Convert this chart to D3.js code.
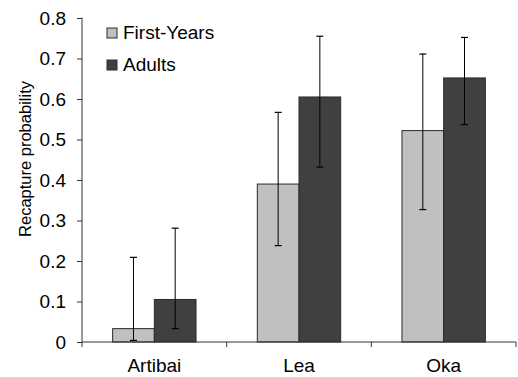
<!DOCTYPE html>
<html>
<head>
<meta charset="utf-8">
<script src="https://cdn.jsdelivr.net/npm/d3@7"></script>
<style>
  body { margin: 0; background: #fff; }
  text { font-family: "Liberation Sans", Arial, sans-serif; fill: #000; }
</style>
</head>
<body>
<svg id="chart" width="518" height="377"></svg>
<script>
var sites = ["Artibai", "Lea", "Oka"];
var groups = ["First-Years", "Adults"];
var firstYears = [0.033, 0.39, 0.522];
var firstYearsLow = [0.004, 0.238, 0.327];
var firstYearsHigh = [0.209, 0.567, 0.711];
var adults = [0.105, 0.605, 0.652];
var adultsLow = [0.033, 0.432, 0.537];
var adultsHigh = [0.281, 0.755, 0.752];
var yTicks = [0, 0.1, 0.2, 0.3, 0.4, 0.5, 0.6, 0.7, 0.8];
var colors = ["#c0c0c0", "#404040"];

function drawChart() {
    var svg = d3.select("#chart");
    var mLeft = 82, mRight = 516, mTop = 18, mBottom = 342;

    var x = d3.scaleBand().domain(sites).range([mLeft, mRight]).paddingInner(0).paddingOuter(0);
    var xg = d3.scaleBand().domain(groups).range([0, x.bandwidth()]).paddingInner(0).paddingOuter(0.735);
    var y = d3.scaleLinear().domain([0, 0.8]).range([mBottom, mTop]);

    var rows = [];
    sites.forEach(function (s, i) {
        rows.push({ site: s, group: groups[0], v: firstYears[i], lo: firstYearsLow[i], hi: firstYearsHigh[i], c: colors[0] });
        rows.push({ site: s, group: groups[1], v: adults[i], lo: adultsLow[i], hi: adultsHigh[i], c: colors[1] });
    });

    // bars
    svg.selectAll(".bar")
        .data(rows)
        .enter()
        .append("rect")
        .attr("x", function (d) { return x(d.site) + xg(d.group); })
        .attr("y", function (d) { return y(d.v); })
        .attr("width", xg.bandwidth())
        .attr("height", function (d) { return y(0) - y(d.v); })
        .attr("fill", function (d) { return d.c; })
        .attr("stroke", "#2a2a2a")
        .attr("stroke-width", 1);

    // error bars
    var eb = svg.selectAll(".err")
        .data(rows)
        .enter()
        .append("g")
        .attr("transform", function (d) { return "translate(" + (x(d.site) + xg(d.group) + xg.bandwidth() / 2) + ",0)"; });
    eb.append("line")
        .attr("y1", function (d) { return y(d.lo); })
        .attr("y2", function (d) { return y(d.hi); })
        .attr("stroke", "#000").attr("stroke-width", 1);
    eb.append("line")
        .attr("x1", -3.5).attr("x2", 3.5)
        .attr("y1", function (d) { return y(d.hi); })
        .attr("y2", function (d) { return y(d.hi); })
        .attr("stroke", "#000").attr("stroke-width", 1.2);
    eb.append("line")
        .attr("x1", -3.5).attr("x2", 3.5)
        .attr("y1", function (d) { return y(d.lo); })
        .attr("y2", function (d) { return y(d.lo); })
        .attr("stroke", "#000").attr("stroke-width", 1.2);

    // y axis
    var yAxis = svg.append("g")
        .attr("transform", "translate(" + mLeft + ",0)")
        .call(d3.axisLeft(y).tickValues(yTicks).tickSize(5).tickSizeOuter(0)
            .tickFormat(function (d) { return d === 0 ? "0" : d3.format(".1f")(d); }));
    yAxis.select(".domain").attr("stroke", "#333").attr("d", "M0," + (mTop - 0.5) + "V" + mBottom);
    yAxis.selectAll(".tick line").attr("stroke", "#333");
    yAxis.selectAll(".tick text").attr("x", -16).attr("font-size", 19)
        .style("font-family", "Liberation Sans, Arial, sans-serif").attr("fill", "#000");

    // x axis
    var xAxis = svg.append("g").attr("transform", "translate(0," + mBottom + ")");
    xAxis.append("line").attr("x1", mLeft).attr("x2", mRight).attr("stroke", "#333");
    var bounds = [mLeft].concat(sites.map(function (s) { return x(s) + x.bandwidth(); }));
    xAxis.selectAll(".xt").data(bounds).enter().append("line")
        .attr("x1", function (d) { return d; }).attr("x2", function (d) { return d; })
        .attr("y1", 0).attr("y2", 5).attr("stroke", "#333");
    xAxis.selectAll(".xl").data(sites).enter().append("text")
        .attr("x", function (d) { return x(d) + x.bandwidth() / 2; })
        .attr("y", 30)
        .attr("text-anchor", "middle")
        .attr("font-size", 19)
        .text(function (d) { return d; });

    // y label
    svg.append("text")
        .attr("transform", "translate(31,159) rotate(-90)")
        .attr("text-anchor", "middle")
        .attr("font-size", 16.5)
        .text("Recapture probability");

    // legend
    var lg = svg.selectAll(".leg").data(groups).enter().append("g")
        .attr("transform", function (d, i) { return "translate(107," + (28 + i * 32) + ")"; });
    lg.append("rect").attr("width", 10).attr("height", 10)
        .attr("fill", function (d, i) { return colors[i]; })
        .attr("stroke", "#2a2a2a");
    lg.append("text").attr("x", 16).attr("y", 11).attr("font-size", 19)
        .text(function (d) { return d; });
}

drawChart();
</script>
</body>
</html>
